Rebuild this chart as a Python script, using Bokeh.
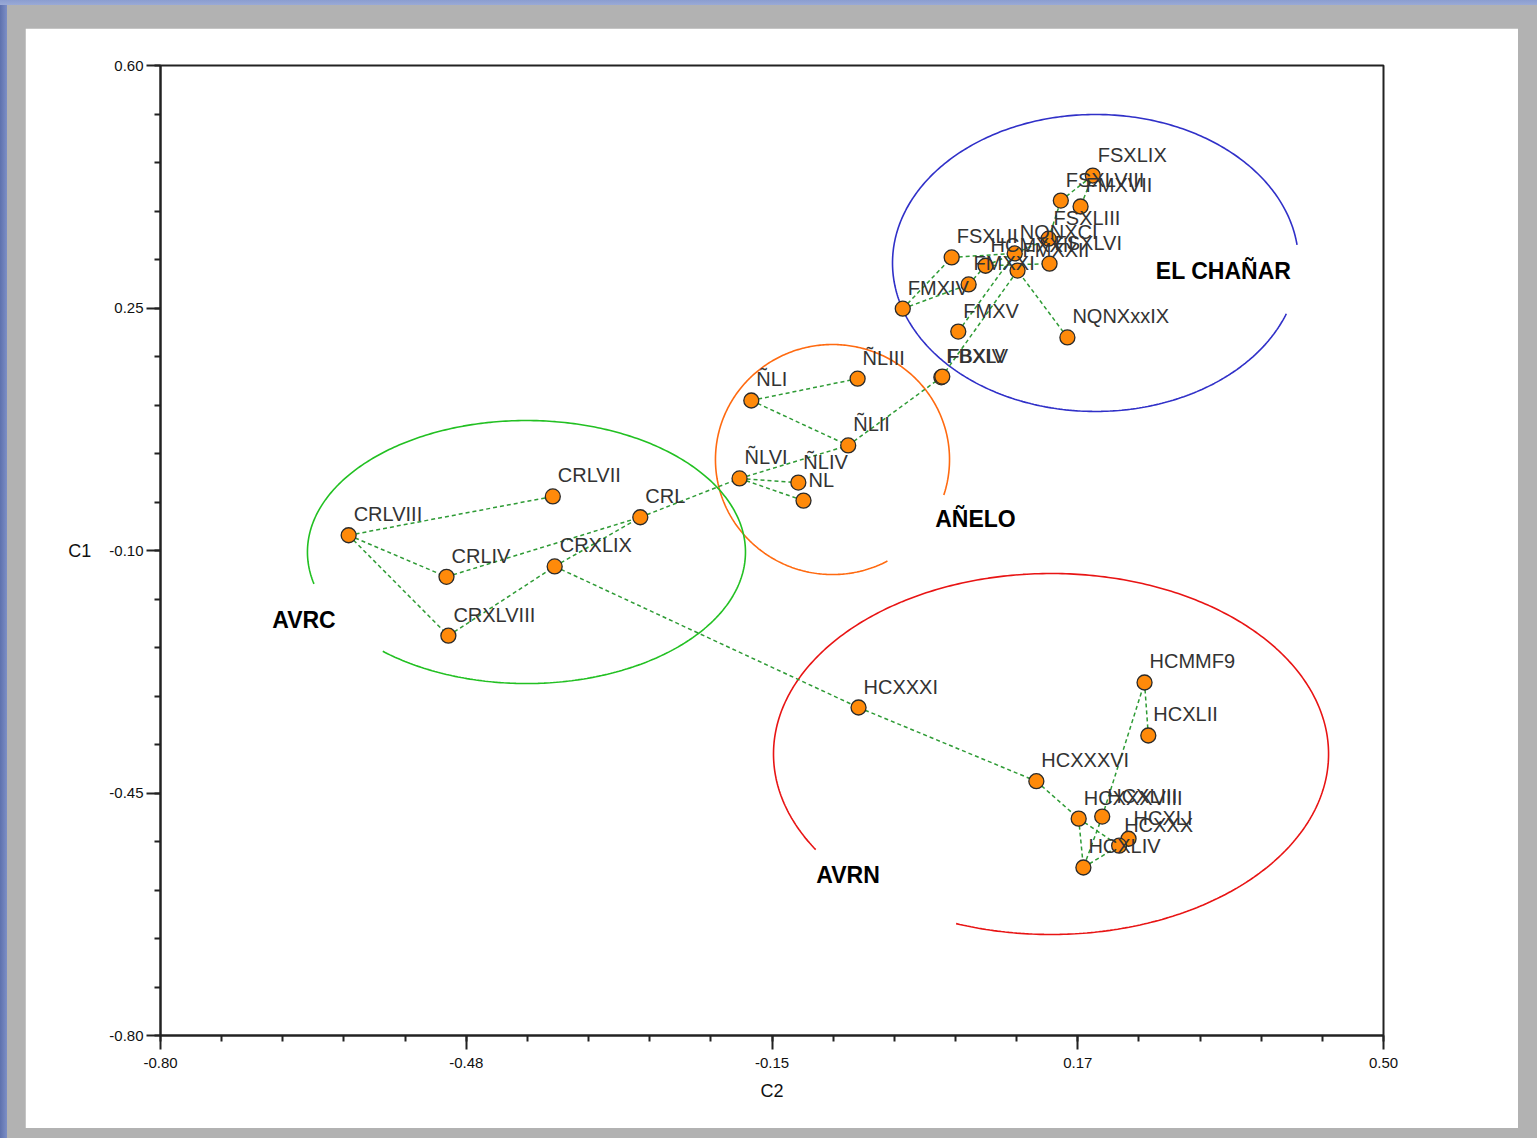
import numpy as np
from bokeh.plotting import figure
from bokeh.models import Range1d, FixedTicker, ColumnDataSource, Spacer, GlobalInlineStyleSheet
from bokeh.layouts import column, row
from bokeh.core.properties import value
from bokeh.embed import file_html
from bokeh.resources import INLINE

# ---------------- data ----------------
names = ["CRLVIII", "CRLVII", "CRL", "CRLIV", "CRXLIX", "CRXLVIII",
         "ÑLI", "ÑLIII", "ÑLII", "ÑLVI", "ÑLIV", "NL",
         "FBXLV", "FBXIV", "FMXV", "NQNXxxIX", "FMXIV", "FMXXI", "FSXLII", "HCMXXII",
         "FMXXII", "NQNXCI", "FSXLVI", "FSXLIII", "FSXLVIII", "FMXVII", "FSXLIX",
         "HCXXXI", "HCMMF9", "HCXLII", "HCXXXVI", "HCXXXVIII", "HCXLIII", "HCXLI",
         "HCXXX", "HCXLIV"]
c2 = [-0.600, -0.383, -0.290, -0.496, -0.381, -0.494,
      -0.172, -0.059, -0.069, -0.1845, -0.122, -0.1165,
      0.030, 0.031, 0.048, 0.164, -0.011, 0.059, 0.041, 0.077,
      0.111, 0.108, 0.145, 0.144, 0.157, 0.178, 0.191,
      -0.058, 0.246, 0.250, 0.131, 0.176, 0.201, 0.229,
      0.219, 0.181]
c1 = [-0.078, -0.022, -0.052, -0.138, -0.123, -0.223,
      0.1165, 0.148, 0.0516, 0.004, -0.002, -0.028,
      0.150, 0.151, 0.216, 0.2075, 0.249, 0.284, 0.323, 0.311,
      0.304, 0.3287, 0.314, 0.350, 0.405, 0.3965, 0.4412,
      -0.3266, -0.2905, -0.367, -0.433, -0.487, -0.484, -0.516,
      -0.526, -0.5575]

edges = [("CRLVIII", "CRLVII"), ("CRLVIII", "CRLIV"), ("CRLVIII", "CRXLVIII"),
         ("CRLIV", "CRL"), ("CRXLVIII", "CRXLIX"), ("CRXLIX", "CRL"),
         ("CRXLIX", "HCXXXI"), ("CRL", "ÑLVI"), ("ÑLVI", "ÑLIV"), ("ÑLVI", "NL"),
         ("ÑLVI", "ÑLII"), ("ÑLI", "ÑLII"), ("ÑLI", "ÑLIII"), ("ÑLII", "FBXLV"),
         ("FBXLV", "FMXXII"), ("FMXV", "NQNXCI"), ("NQNXxxIX", "FMXXII"),
         ("FMXIV", "FSXLII"), ("FMXIV", "FMXXI"), ("FMXXI", "HCMXXII"),
         ("HCMXXII", "FSXLVI"), ("HCMXXII", "NQNXCI"), ("NQNXCI", "FSXLIII"),
         ("FSXLII", "NQNXCI"), ("FSXLIII", "FSXLVIII"), ("FSXLVIII", "FSXLIX"),
         ("FSXLIX", "FMXVII"),
         ("HCXXXI", "HCXXXVI"), ("HCXXXVI", "HCXXXVIII"), ("HCXXXVIII", "HCXLIV"),
         ("HCXLIV", "HCXXX"), ("HCXXXVIII", "HCXXX"), ("HCXLIII", "HCXLIV"),
         ("HCXLI", "HCXXX"), ("HCXLIII", "HCMMF9"), ("HCMMF9", "HCXLII")]

group_names = ["EL CHAÑAR", "AÑELO", "AVRC", "AVRN"]
group_label_x = [0.330, 0.0663, -0.6475, -0.0692]
group_label_y = [0.303, -0.055, -0.1996, -0.569]
group_cx = [0.1939, -0.0857, -0.4110, 0.1466]
group_cy = [0.3150, 0.0313, -0.1022, -0.3937]
group_rx = [0.2158, 0.1244, 0.2328, 0.2950]
group_ry = [0.2143, 0.1660, 0.1898, 0.2605]
group_gap_from = [-20, -62, 194, 212]   # degrees
group_gap_to = [7, -18, 229, 250]
group_colors = ["#3030C8", "#FF6A10", "#22C022", "#E81414"]

x_tick_vals = [-0.80, -0.475, -0.15, 0.175, 0.50]
x_tick_labels = ["-0.80", "-0.48", "-0.15", "0.17", "0.50"]
y_tick_vals = [0.60, 0.25, -0.10, -0.45, -0.80]
y_tick_labels = ["0.60", "0.25", "-0.10", "-0.45", "-0.80"]

# ---------------- figure ----------------
FONT = "Liberation Sans"
p = figure(width=1493, height=1100, output_backend="svg", toolbar_location=None,
           x_range=Range1d(-0.80, 0.50), y_range=Range1d(-0.80, 0.60),
           min_border_left=135, min_border_right=135, min_border_top=37,
           min_border_bottom=93)
p.background_fill_color = "white"
p.border_fill_color = "white"
p.grid.visible = False
p.outline_line_color = "#222222"
p.outline_line_width = 2

p.xaxis.ticker = FixedTicker(ticks=x_tick_vals, minor_ticks=list(np.linspace(-0.80, 0.50, 21)))
p.yaxis.ticker = FixedTicker(ticks=y_tick_vals, minor_ticks=list(np.linspace(-0.80, 0.60, 21)))
p.xaxis.major_label_overrides = dict(zip(x_tick_vals, x_tick_labels))
p.yaxis.major_label_overrides = dict(zip(y_tick_vals, y_tick_labels))
for ax in (p.xaxis[0], p.yaxis[0]):
    ax.axis_line_color = "#222222"
    ax.axis_line_width = 2
    ax.major_tick_line_color = "#222222"
    ax.major_tick_line_width = 2
    ax.minor_tick_line_color = "#222222"
    ax.minor_tick_line_width = 2
    ax.major_tick_out = 14
    ax.major_tick_in = 0
    ax.minor_tick_out = 6
    ax.minor_tick_in = 0
    ax.major_label_text_font = FONT
    ax.major_label_text_font_size = "15px"
    ax.major_label_text_color = "#111111"
    ax.axis_label_text_font = FONT
    ax.axis_label_text_font_size = "18px"
    ax.axis_label_text_font_style = "normal"
    ax.axis_label_text_color = "#111111"
p.xaxis.axis_label = "C2"
p.yaxis.axis_label = "C1"
p.yaxis.axis_label_orientation = "horizontal"
p.xaxis.major_label_standoff = 8
p.yaxis.major_label_standoff = 3
p.xaxis.axis_label_standoff = 10
p.yaxis.axis_label_standoff = 15

# ellipses (group outlines with gaps)
for cx, cy, rx, ry, g0, g1, col in zip(group_cx, group_cy, group_rx, group_ry,
                                        group_gap_from, group_gap_to, group_colors):
    t = np.radians(np.linspace(g1, g0 + 360, 400))
    p.line(cx + rx * np.cos(t), cy + ry * np.sin(t), line_color=col, line_width=1.6)

# connecting lines
idx = {n: i for i, n in enumerate(names)}
xs = [[c2[idx[a]], c2[idx[b]]] for a, b in edges]
ys = [[c1[idx[a]], c1[idx[b]]] for a, b in edges]
p.multi_line(xs, ys, line_color="#2E9B35", line_width=1.5, line_dash="4 3")

src = ColumnDataSource(dict(x=c2, y=c1, name=names))
p.scatter("x", "y", source=src, size=15, fill_color="#FF8A0A",
          line_color="#2a2a2a", line_width=1.3)
p.text("x", "y", text="name", source=src, x_offset=5, y_offset=-21,
       text_font=value(FONT), text_font_size="20px", text_color="#333333",
       text_baseline="middle", text_align="left")

gsrc = ColumnDataSource(dict(x=group_label_x, y=group_label_y, name=group_names))
p.text("x", "y", text="name", source=gsrc, text_font=value(FONT),
       text_font_size="23px", text_font_style="bold", text_color="black",
       text_baseline="middle", text_align="center")

css = GlobalInlineStyleSheet(css=(
    "html, body { background: linear-gradient(to bottom, #8b9dd0 0px, #9aaad6 5px, transparent 5px),"
    " linear-gradient(to right, #5e71ad 0px, #7d8fc6 7px, #b2b2b2 7px) !important; }"))
layout = column(Spacer(width=10, height=28),
                row(Spacer(width=25, height=10), p),
                stylesheets=[css])

open("out.html", "w").write(file_html(layout, INLINE))
